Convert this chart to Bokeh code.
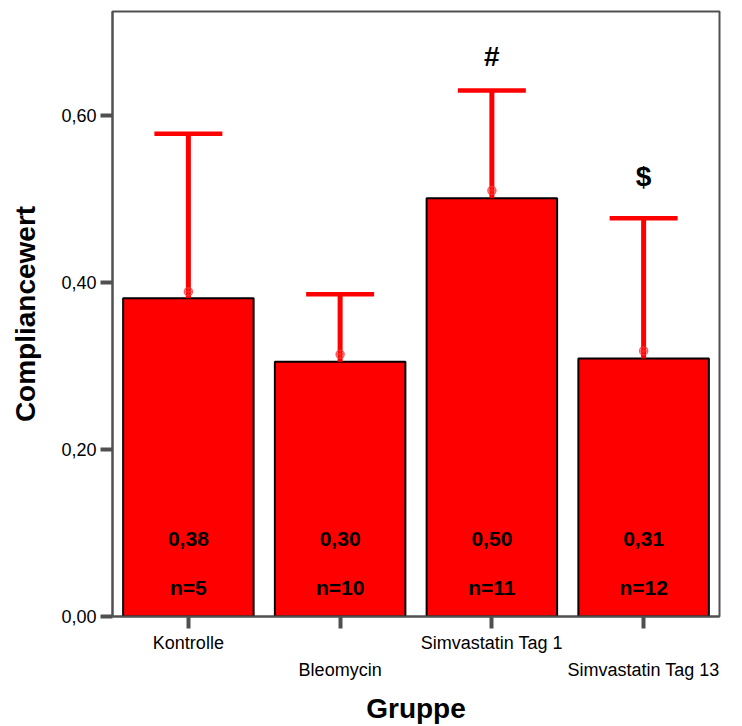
from bokeh.plotting import figure
from bokeh.models import (ColumnDataSource, FixedTicker, CustomJSTickFormatter, FactorRange,
                          Range1d, CategoricalAxis)
from bokeh.core.properties import value
from bokeh.embed import file_html
from bokeh.resources import INLINE

# ---- data ----
groups = ["Kontrolle", "Bleomycin", "Simvastatin Tag 1", "Simvastatin Tag 13"]
means = [0.381, 0.305, 0.501, 0.309]
upper = [0.578, 0.386, 0.630, 0.477]
marker_vals = [0.389, 0.314, 0.510, 0.318]
mean_labels = ["0,38", "0,30", "0,50", "0,31"]
n_labels = ["n=5", "n=10", "n=11", "n=12"]
sig_symbols = ["", "", "#", "$"]
y_ticks = [0.0, 0.2, 0.4, 0.6]
y_tick_labels = ["0,00", "0,20", "0,40", "0,60"]

# ---- styling ----
FONT = "Liberation Sans"
RED = "#ff0000"
GRAY = "#505050"
sig_offsets = [0.0, 0.0, 0.041, 0.050]
upper_row = [groups[0], groups[2]]   # tick labels on the first line
lower_row = [groups[1], groups[3]]   # tick labels on the second line

src = ColumnDataSource(dict(
    g=groups, mean=means, upper=upper, mk=marker_vals,
    ml=mean_labels, nl=n_labels, sig=sig_symbols,
    sig_y=[u + o for u, o in zip(upper, sig_offsets)],
    ml_y=[0.0925] * len(groups), nl_y=[0.0345] * len(groups),
))

p = figure(width=740, height=726, x_range=FactorRange(*groups, range_padding=0),
           y_range=Range1d(0, 0.7245), output_backend="svg", toolbar_location=None,
           min_border_left=112, min_border_right=21, min_border_top=11, min_border_bottom=106)

p.vbar(x="g", top="mean", width=0.86, source=src, fill_color=RED,
       line_color="black", line_width=2)
p.segment(x0="g", y0="mean", x1="g", y1="upper", source=src, line_color=RED, line_width=5)
p.rect(x="g", y="upper", width=0.448, height=4.5, height_units="screen", source=src,
       fill_color=RED, line_color=None)
p.scatter(x="g", y="mk", source=src, marker="circle_cross", size=8, fill_color=None,
          line_color="#ff3030", line_width=1.5, line_alpha=0.8)

p.text(x="g", y="ml_y", text="ml", source=src, text_font=value(FONT), text_font_style="bold",
       text_font_size="21px", text_align="center", text_baseline="middle", text_color="black")
p.text(x="g", y="nl_y", text="nl", source=src, text_font=value(FONT), text_font_style="bold",
       text_font_size="21px", text_align="center", text_baseline="middle", text_color="black")
p.text(x="g", y="sig_y", text="sig", source=src, text_font=value(FONT), text_font_style="bold",
       text_font_size="28px", text_align="center", text_baseline="alphabetic", text_color="black")

p.xgrid.visible = False
p.ygrid.visible = False
p.outline_line_color = GRAY
p.outline_line_width = 2
p.background_fill_color = "white"
p.border_fill_color = "white"

yax = p.yaxis[0]
yax.ticker = FixedTicker(ticks=y_ticks)
yax.formatter = CustomJSTickFormatter(args=dict(labels=y_tick_labels), code="return labels[index];")
yax.minor_tick_line_color = None
yax.major_tick_out = 12
yax.major_tick_in = 0
yax.major_tick_line_width = 4
yax.major_tick_line_color = GRAY
yax.axis_line_color = GRAY
yax.axis_line_width = 2
yax.major_label_text_font = FONT
yax.major_label_text_font_size = "18px"
yax.major_label_text_color = "black"
yax.major_label_standoff = 4
yax.axis_label = "Compliancewert"
yax.axis_label_text_font = FONT
yax.axis_label_text_font_style = "bold"
yax.axis_label_text_font_size = "28px"
yax.axis_label_text_color = "black"
yax.axis_label_standoff = 17

row_code = "return show.includes(tick) ? tick : ' ';"

xax = p.xaxis[0]
xax.formatter = CustomJSTickFormatter(args=dict(show=upper_row), code=row_code)
xax.major_tick_out = 12
xax.major_tick_in = 0
xax.major_tick_line_width = 4
xax.major_tick_line_color = GRAY
xax.axis_line_color = GRAY
xax.axis_line_width = 2
xax.major_label_orientation = "horizontal"
xax.major_label_text_font = FONT
xax.major_label_text_font_size = "18px"
xax.major_label_text_color = "black"
xax.major_label_standoff = 4

ax2 = CategoricalAxis()
ax2.formatter = CustomJSTickFormatter(args=dict(show=lower_row), code=row_code)
ax2.major_tick_out = 0
ax2.major_tick_in = 0
ax2.major_tick_line_color = None
ax2.minor_tick_line_color = None
ax2.axis_line_color = None
ax2.major_label_orientation = "horizontal"
ax2.major_label_text_font = FONT
ax2.major_label_text_font_size = "18px"
ax2.major_label_text_color = "black"
ax2.major_label_standoff = 4
ax2.axis_label = "Gruppe"
ax2.axis_label_text_font = FONT
ax2.axis_label_text_font_style = "bold"
ax2.axis_label_text_font_size = "28px"
ax2.axis_label_text_color = "black"
ax2.axis_label_standoff = 10
p.add_layout(ax2, "below")

open("out.html", "w").write(file_html(p, INLINE))
